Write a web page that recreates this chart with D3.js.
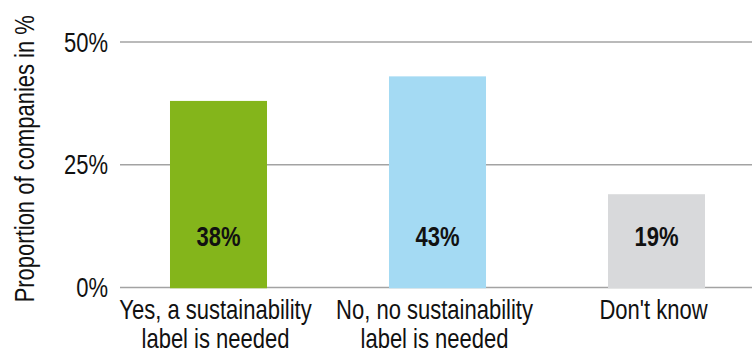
<!DOCTYPE html>
<html>
<head>
<meta charset="utf-8">
<script src="https://cdn.jsdelivr.net/npm/d3@7"></script>
<style>
  html, body { margin: 0; padding: 0; background: #fff; }
  svg { display: block; }
  text { font-family: "Liberation Sans", Arial, sans-serif; fill: #111; }
</style>
</head>
<body>
<svg id="chart" width="752" height="354"></svg>
<script>
// Survey answers: is a sustainability label needed?
const categories = ["Yes, a sustainability\nlabel is needed", "No, no sustainability\nlabel is needed", "Don't know"];
const values = [38, 43, 19];
const barColors = ["#84b51b", "#a4daf3", "#d8d9db"];
const yTicks = [0, 25, 50];
const yTitle = "Proportion of companies in %";

const svg = d3.select("#chart");
const W = 752;
const FS = 27.5;     // font size for all labels
const NARROW = 0.8;  // horizontal squeeze to get a condensed face

const x = d3.scaleBand()
  .domain(categories)
  .range([109, 766])
  .paddingInner(0.557)
  .paddingOuter(0.2785);

const y = d3.scaleLinear()
  .domain([0, 50])
  .range([287.5, 42]);

// Horizontal gridlines
svg.append("g")
  .selectAll("line")
  .data(yTicks)
  .join("line")
  .attr("x1", 120)
  .attr("x2", W)
  .attr("y1", d => y(d))
  .attr("y2", d => y(d))
  .attr("stroke", "#a3a3a3")
  .attr("stroke-width", 1.5);

// Y tick labels
svg.append("g")
  .selectAll("text")
  .data(yTicks)
  .join("text")
  .attr("transform", d => `translate(108,${y(d) + 9.5}) scale(${NARROW},1)`)
  .attr("text-anchor", "end")
  .attr("font-size", FS)
  .text(d => d + "%");

// Y axis title
svg.append("text")
  .attr("transform", `translate(34,${(y(0) + y(50)) / 2 - 6}) rotate(-90) scale(${NARROW},1)`)
  .attr("text-anchor", "middle")
  .attr("font-size", FS)
  .text(yTitle);

// Bars
svg.append("g")
  .selectAll("rect")
  .data(values)
  .join("rect")
  .attr("x", (d, i) => x(categories[i]))
  .attr("width", x.bandwidth())
  .attr("y", d => y(d))
  .attr("height", d => y(0) - y(d) + 0.75)
  .attr("fill", (d, i) => barColors[i]);

// Value labels inside bars
svg.append("g")
  .selectAll("text")
  .data(values)
  .join("text")
  .attr("transform", (d, i) => `translate(${x(categories[i]) + x.bandwidth() / 2},245.5) scale(${NARROW},1)`)
  .attr("text-anchor", "middle")
  .attr("font-size", FS)
  .attr("font-weight", "bold")
  .text(d => d + "%");

// Category labels, one tspan per line
const cat = svg.append("g")
  .selectAll("text")
  .data(categories)
  .join("text")
  .attr("transform", d => `translate(${x(d) + x.bandwidth() / 2 - 3},319) scale(${NARROW},1)`)
  .attr("text-anchor", "middle")
  .attr("font-size", FS);
cat.each(function (d) {
  const t = d3.select(this);
  d.split("\n").forEach((line, k) => {
    t.append("tspan")
      .attr("x", 0)
      .attr("y", k * 29)
      .text(line);
  });
});
</script>
</body>
</html>
